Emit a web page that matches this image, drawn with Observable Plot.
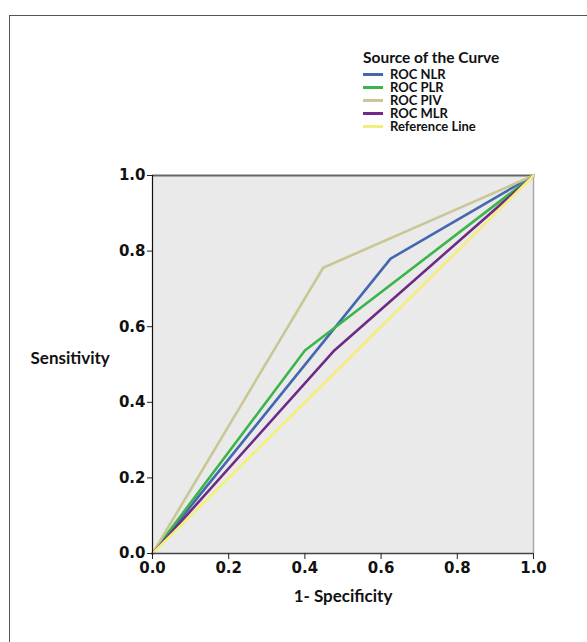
<!DOCTYPE html>
<html>
<head>
<meta charset="utf-8">
<script src="https://cdn.jsdelivr.net/npm/d3@7"></script>
<script src="https://cdn.jsdelivr.net/npm/@observablehq/plot@0.6"></script>
<style>
  html, body { margin: 0; padding: 0; background: #fff; }
  #wrap { position: relative; width: 587px; height: 642px; overflow: hidden; }
  #outer { position: absolute; left: 9px; top: 15px; width: 700px; height: 700px;
           border-left: 1.5px solid #555; border-top: 1.5px solid #555; box-sizing: border-box; }
  #legend { position: absolute; left: 363px; top: 48px; font-family: Lato, "Open Sans", sans-serif; font-weight: bold; color: #111; }
  #legend .title { font-size: 15.5px; line-height: 19px; margin-bottom: 1px; }
  #legend .item { display: flex; align-items: center; height: 13px; font-size: 13px; line-height: 13px; }
  #legend .sw { width: 20px; height: 3px; margin-right: 7px; }
  #chart { position: absolute; left: 0; top: 0; }
</style>
</head>
<body>
<div id="wrap">
  <div id="outer"></div>
  <div id="chart"></div>
  <div id="legend"></div>
</div>
<script>
// Series names (legend order)
const seriesNames = ["ROC NLR", "ROC PLR", "ROC PIV", "ROC MLR", "Reference Line"];
// 1 - specificity / sensitivity values per series
const fprNLR = [0, 0.625, 1];
const tprNLR = [0, 0.78, 1];
const fprPLR = [0, 0.40, 1];
const tprPLR = [0, 0.537, 1];
const fprPIV = [0, 0.448, 1];
const tprPIV = [0, 0.756, 1];
const fprMLR = [0, 0.475, 1];
const tprMLR = [0, 0.535, 1];
const fprRef = [0, 1];
const tprRef = [0, 1];
const tickValues = [0, 0.2, 0.4, 0.6, 0.8, 1.0];

const seriesColors = ["#4468b0", "#3bb54a", "#c8c795", "#6e2a85", "#f3ef7a"];

const fprs = [fprNLR, fprPLR, fprPIV, fprMLR, fprRef];
const tprs = [tprNLR, tprPLR, tprPIV, tprMLR, tprRef];
const rows = [];
seriesNames.forEach((s, i) => fprs[i].forEach((x, j) => rows.push({series: s, fpr: x, tpr: tprs[i][j]})));

const fmt = d3.format(".1f");
const tickFont = "'DejaVu Sans', Verdana, sans-serif";
const chart = Plot.plot({
  width: 587,
  height: 642,
  marginLeft: 152,
  marginRight: 54,
  marginTop: 175,
  marginBottom: 89,
  style: { fontFamily: tickFont, fontSize: "15px", fontWeight: "bold", color: "#111", background: "transparent" },
  x: { domain: [0, 1], ticks: tickValues, tickFormat: fmt, label: null },
  y: { domain: [0, 1], ticks: tickValues, tickFormat: fmt, label: null },
  color: { domain: seriesNames, range: seriesColors },
  marks: [
    Plot.frame({ fill: "#eaeaea", stroke: null }),
    Plot.ruleX([1], { stroke: "#aaa", strokeWidth: 1.5 }),
    Plot.ruleY([1], { stroke: "#666", strokeWidth: 2 }),
    Plot.line(rows, { x: "fpr", y: "tpr", z: "series", stroke: "series", strokeWidth: 2.6, curve: "linear" }),
    Plot.ruleX([0], { stroke: "#111", strokeWidth: 1.2 }),
    Plot.ruleY([0], { stroke: "#444", strokeWidth: 1.5 }),
    Plot.axisX({ ticks: tickValues, tickFormat: fmt, tickSize: 6, tickPadding: 3, stroke: "#222", label: null, fontSize: 15, fontWeight: "bold", fontFamily: tickFont }),
    Plot.axisY({ ticks: tickValues, tickFormat: fmt, tickSize: 5, tickPadding: 2, stroke: "#222", label: null, fontSize: 15, fontWeight: "bold", fontFamily: tickFont }),
    Plot.text(["1- Specificity"], { frameAnchor: "bottom", dy: 48, fontSize: 17, fontFamily: "Lato, 'Open Sans', sans-serif", fontWeight: "bold", fill: "#111" }),
    Plot.text(["Sensitivity"], { frameAnchor: "left", dx: -122, dy: -6, textAnchor: "start", fontSize: 17, fontFamily: "Lato, 'Open Sans', sans-serif", fontWeight: "bold", fill: "#111" })
  ]
});
document.getElementById("chart").appendChild(chart);

const legend = document.getElementById("legend");
const title = document.createElement("div");
title.className = "title";
title.textContent = "Source of the Curve";
legend.appendChild(title);
seriesNames.forEach((s, i) => {
  const item = document.createElement("div");
  item.className = "item";
  const sw = document.createElement("div");
  sw.className = "sw";
  sw.style.background = seriesColors[i];
  const lab = document.createElement("span");
  lab.textContent = s;
  item.appendChild(sw);
  item.appendChild(lab);
  legend.appendChild(item);
});
</script>
</body>
</html>
